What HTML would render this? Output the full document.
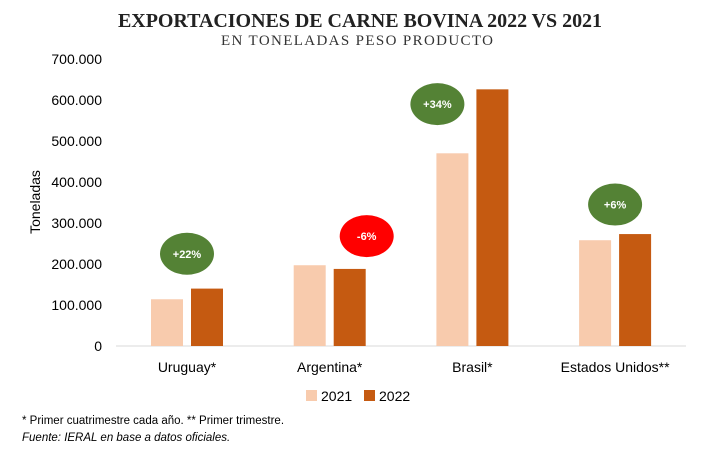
<!DOCTYPE html>
<html><head><meta charset="utf-8"><style>
body{margin:0;background:#fff;}
svg{display:block;font-family:"Liberation Sans",sans-serif;}
</style></head><body>
<svg id="c" width="716" height="453" viewBox="0 0 716 453">
<text x="360" y="27" text-anchor="middle" font-family="Liberation Serif,serif" font-weight="bold" font-size="20" fill="#222" textLength="484">EXPORTACIONES DE CARNE BOVINA 2022 VS 2021</text>
<text x="357" y="45" text-anchor="middle" font-family="Liberation Serif,serif" font-size="15" fill="#333" textLength="272">EN TONELADAS PESO PRODUCTO</text>
<text transform="translate(40,202) rotate(-90)" text-anchor="middle" font-size="14" fill="#000">Toneladas</text>
<g id="g"></g>
<rect x="306" y="390" width="11" height="11" fill="#f8cbad"/>
<text x="321" y="401" font-size="14">2021</text>
<rect x="364" y="390" width="11" height="11" fill="#c55a11"/>
<text x="379" y="401" font-size="14">2022</text>
<text x="22" y="424" font-size="11.5">* Primer cuatrimestre cada año. ** Primer trimestre.</text>
<text x="22" y="441" font-size="11.5" font-style="italic">Fuente: IERAL en base a datos oficiales.</text>
</svg>
<script>
const categories=["Uruguay*","Argentina*","Brasil*","Estados Unidos**"];
const values2021=[114000,197000,470000,258000];
const values2022=[140000,188000,626000,273000];
const changeLabels=["+22%","-6%","+34%","+6%"];
const changeColors=["#548235","#ff0000","#548235","#548235"];
const badgeValues=[225000,268000,590000,345000];
const ticks=[0,100000,200000,300000,400000,500000,600000,700000];
const NS="http://www.w3.org/2000/svg";
const g=document.getElementById('g');
const y=v=>346-v*(287/700000);
const xc=i=>187+i*142.7;
function mk(t,a,txt){const e=document.createElementNS(NS,t);for(const k in a)e.setAttribute(k,a[k]);if(txt!=null)e.textContent=txt;g.appendChild(e);return e;}
ticks.forEach(t=>{
 const e=mk('text',{x:102,y:y(t)+5,'text-anchor':'end','font-size':14},t===0?'0':t.toLocaleString('de-DE'));
 
 
});
const ax=mk('line',{x1:116,x2:686,y1:346,y2:346,stroke:'#d9d9d9','stroke-width':1});


categories.forEach((c,i)=>{
 const cx=xc(i);
 const b1=mk('rect',{x:cx-36,y:y(values2021[i]),width:32,height:346-y(values2021[i]),fill:'#f8cbad'});
 
 
 const b2=mk('rect',{x:cx+4,y:y(values2022[i]),width:32,height:346-y(values2022[i]),fill:'#c55a11'});
 
 
 const l=mk('text',{x:cx,y:372,'text-anchor':'middle','font-size':14},c);
 
 
 const ex=i===1?cx+37:(i===2?cx-35:cx);
 const ey=y(badgeValues[i]);
 const el=mk('ellipse',{cx:ex,cy:ey,rx:27,ry:21,fill:changeColors[i]});
 
 
 const t=mk('text',{x:ex,y:ey+4,'text-anchor':'middle','font-size':11,'font-weight':'bold',fill:'#fff'},changeLabels[i]);
 
 
});
</script>
</body></html>
